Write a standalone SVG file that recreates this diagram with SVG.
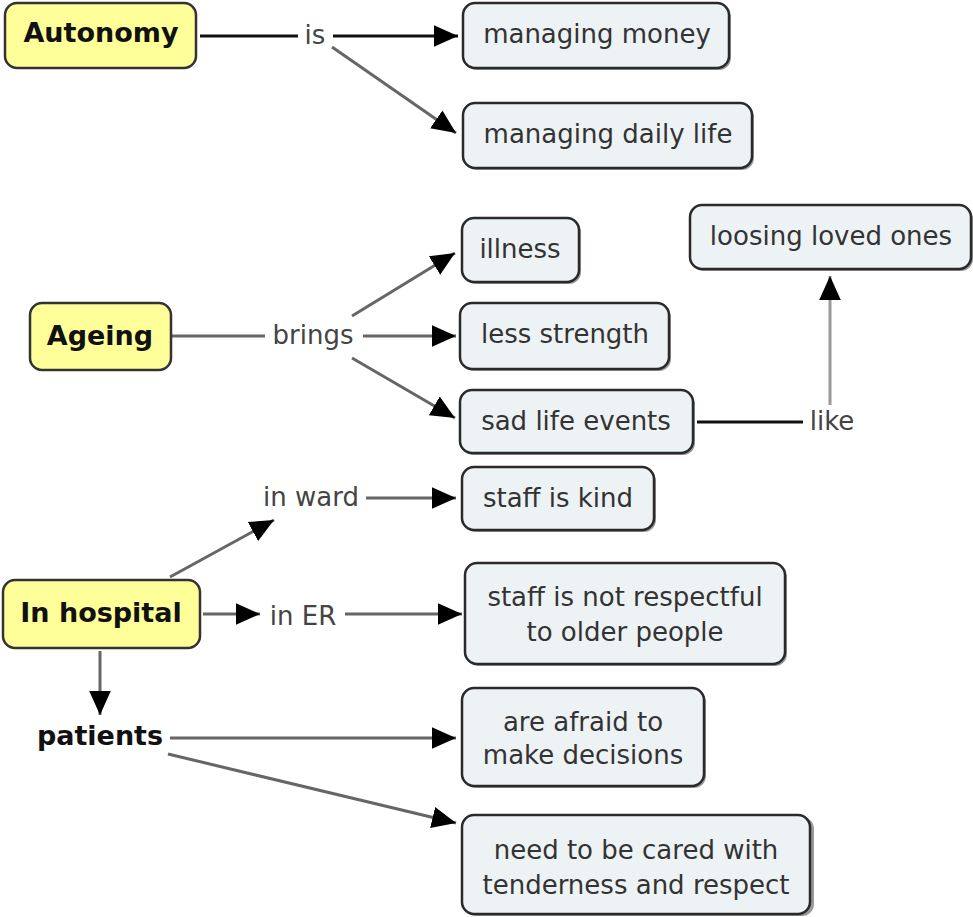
<svg xmlns="http://www.w3.org/2000/svg" width="973" height="917" viewBox="0 0 973 917">
<style>
.c{fill:#edf2f5;stroke:#2a2a2a;stroke-width:2.5}
.y{fill:#ffff99;stroke:#333;stroke-width:2.5}
.sh{fill:#999}
text{font-family:"DejaVu Sans",Verdana,sans-serif;font-size:26px;text-anchor:middle}
.t{fill:#333}
.b{font-weight:bold;fill:#111;font-size:27px}
.l{fill:#444}
.ln{stroke:#666;stroke-width:3;fill:none}
.lk{stroke:#111;stroke-width:3;fill:none}
</style>
<defs>
<marker id="ah" viewBox="0 0 10 10" refX="10" refY="5" markerWidth="24" markerHeight="24" markerUnits="userSpaceOnUse" orient="auto"><path d="M0,0.5L10,5L0,9.5z" fill="#000"/></marker>
</defs>
<g id="connectors">
<line class="lk" x1="200" y1="36" x2="298" y2="36"/>
<line class="lk" x1="333" y1="36" x2="458" y2="36" marker-end="url(#ah)"/>
<line class="ln" x1="332" y1="47" x2="456" y2="133" marker-end="url(#ah)"/>
<line class="ln" x1="172" y1="336" x2="265" y2="336"/>
<line class="ln" x1="363" y1="336" x2="456" y2="336" marker-end="url(#ah)"/>
<line class="ln" x1="352" y1="316" x2="455" y2="253" marker-end="url(#ah)"/>
<line class="ln" x1="352" y1="358" x2="455" y2="418" marker-end="url(#ah)"/>
<line class="lk" x1="697" y1="422" x2="803" y2="422"/>
<line class="ln" x1="830" y1="405" x2="830" y2="276" marker-end="url(#ah)" style="stroke:#999"/>
<line class="ln" x1="170" y1="577" x2="274" y2="520" marker-end="url(#ah)"/>
<line class="ln" x1="366" y1="498" x2="456" y2="498" marker-end="url(#ah)"/>
<line class="ln" x1="203" y1="614" x2="260" y2="614" marker-end="url(#ah)"/>
<line class="ln" x1="345" y1="614" x2="462" y2="614" marker-end="url(#ah)"/>
<line class="ln" x1="100" y1="651" x2="100" y2="715" marker-end="url(#ah)"/>
<line class="ln" x1="170" y1="738" x2="456" y2="738" marker-end="url(#ah)"/>
<line class="ln" x1="168" y1="754" x2="456" y2="823" marker-end="url(#ah)"/>
</g>
<g id="autonomy"><rect x="5" y="3" width="191" height="65" rx="12" class="y"/><text x="101" y="42" class="b">Autonomy</text></g>
<g id="lbl-is"><text x="315" y="44" class="l">is</text></g>
<g id="managing-money"><rect x="465" y="5" width="266" height="65" rx="12" class="sh"/><rect x="463" y="3" width="266" height="65" rx="12" class="c"/><text x="597" y="43" class="t">managing money</text></g>
<g id="managing-daily-life"><rect x="465" y="105" width="289" height="65" rx="12" class="sh"/><rect x="463" y="103" width="289" height="65" rx="12" class="c"/><text x="608" y="143" class="t">managing daily life</text></g>
<g id="ageing"><rect x="30" y="303" width="141" height="67" rx="12" class="y"/><text x="100" y="345" class="b">Ageing</text></g>
<g id="lbl-brings"><text x="313" y="344" class="l">brings</text></g>
<g id="illness"><rect x="464" y="220" width="117" height="64" rx="12" class="sh"/><rect x="462" y="218" width="117" height="64" rx="12" class="c"/><text x="520" y="258" class="t">illness</text></g>
<g id="less-strength"><rect x="462" y="305" width="209" height="66" rx="12" class="sh"/><rect x="460" y="303" width="209" height="66" rx="12" class="c"/><text x="565" y="343" class="t">less strength</text></g>
<g id="sad-life-events"><rect x="462" y="392" width="233" height="63" rx="12" class="sh"/><rect x="460" y="390" width="233" height="63" rx="12" class="c"/><text x="576" y="430" class="t">sad life events</text></g>
<g id="loosing-loved-ones"><rect x="692" y="207" width="281" height="64" rx="12" class="sh"/><rect x="690" y="205" width="281" height="64" rx="12" class="c"/><text x="831" y="245" class="t">loosing loved ones</text></g>
<g id="lbl-like"><text x="832" y="430" class="l">like</text></g>
<g id="in-hospital"><rect x="3" y="580" width="197" height="68" rx="12" class="y"/><text x="101" y="622" class="b">In hospital</text></g>
<g id="lbl-in-ward"><text x="311" y="506" class="l">in ward</text></g>
<g id="staff-is-kind"><rect x="464" y="469" width="192" height="63" rx="12" class="sh"/><rect x="462" y="467" width="192" height="63" rx="12" class="c"/><text x="558" y="507" class="t">staff is kind</text></g>
<g id="lbl-in-er"><text x="303" y="625" class="l">in ER</text></g>
<g id="staff-not-respectful"><rect x="467" y="565" width="320" height="101" rx="12" class="sh"/><rect x="465" y="563" width="320" height="101" rx="12" class="c"/><text x="625" y="606" class="t">staff is not respectful</text><text x="625" y="641" class="t">to older people</text></g>
<g id="patients"><text x="100" y="745" class="b">patients</text></g>
<g id="afraid"><rect x="464" y="690" width="242" height="98" rx="12" class="sh"/><rect x="462" y="688" width="242" height="98" rx="12" class="c"/><text x="583" y="731" class="t">are afraid to</text><text x="583" y="764" class="t">make decisions</text></g>
<g id="tenderness"><rect x="464" y="817" width="350" height="99" rx="12" class="sh"/><rect x="462" y="815" width="348" height="99" rx="12" class="c"/><text x="636" y="859" class="t">need to be cared with</text><text x="636" y="894" class="t">tenderness and respect</text></g>
</svg>
